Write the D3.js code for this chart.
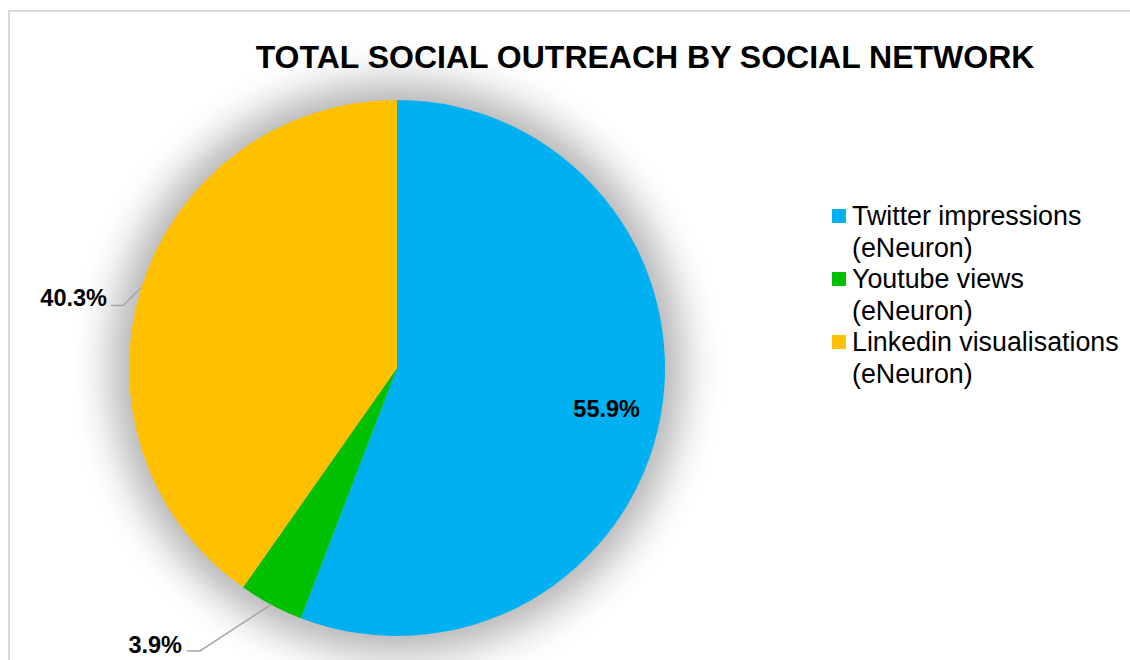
<!DOCTYPE html>
<html><head><meta charset="utf-8">
<script src="https://cdn.jsdelivr.net/npm/d3@7"></script>
<style>body{margin:0;background:#fff;font-family:"Liberation Sans",Arial,sans-serif}</style>
</head><body>
<svg id="c" width="1130" height="660"></svg>
<script>
const categories = ["Twitter impressions (eNeuron)", "Youtube views (eNeuron)", "Linkedin visualisations (eNeuron)"];
const legendLines = [["Twitter impressions", "(eNeuron)"], ["Youtube views", "(eNeuron)"], ["Linkedin visualisations", "(eNeuron)"]];
const values = [55.9, 3.9, 40.3];
const labels = ["55.9%", "3.9%", "40.3%"];
const colors = ["#00B0F0", "#00C000", "#FFC000"];

const svg = d3.select("#c");
svg.append("rect").attr("x",9).attr("y",11).attr("width",1140).attr("height",680)
  .attr("fill","#fff").attr("stroke","#d9d9d9").attr("stroke-width",2);

svg.append("text").attr("x",645).attr("y",68).attr("text-anchor","middle")
  .attr("font-size",32).attr("font-weight","bold").attr("fill","#000")
  .text("TOTAL SOCIAL OUTREACH BY SOCIAL NETWORK");

const cx = 397, cy = 368, r = 268;
const defs = svg.append("defs");
const f = defs.append("filter").attr("id","sh").attr("x","-30%").attr("y","-30%").attr("width","160%").attr("height","160%");
f.append("feGaussianBlur").attr("stdDeviation",20);

const g = svg.append("g").attr("transform",`translate(${cx},${cy})`);
g.append("circle").attr("r",r+18).attr("fill","#000").attr("opacity",0.3).attr("filter","url(#sh)");

const pie = d3.pie().sort(null).value(d=>d);
const arcs = pie(values);
const arc = d3.arc().innerRadius(0).outerRadius(r);
g.selectAll("path.s").data(arcs).join("path").attr("class","s")
  .attr("d",arc).attr("fill",(d,i)=>colors[i]);

// inside label for first slice
g.append("text").attr("x",243).attr("y",49).attr("text-anchor","end")
  .attr("font-size",23.5).attr("font-weight","bold").text(labels[0]);

// outside labels with leader lines
const outside = [
  {i:2, elbow:[-274,-62.5], end:[-286,-62.5], tx:-290, ty:-62},
  {i:1, elbow:[-197,283], end:[-210,283], tx:-215, ty:285}
];
outside.forEach(o=>{
  const a = arcs[o.i];
  const mid = (a.startAngle + a.endAngle)/2;
  const p = [r*Math.sin(mid), -r*Math.cos(mid)];
  g.append("polyline").attr("points",[p,o.elbow,o.end].map(q=>q.join(",")).join(" "))
    .attr("fill","none").attr("stroke","#a6a6a6").attr("stroke-width",1.5);
  g.append("text").attr("x",o.tx).attr("y",o.ty).attr("text-anchor","end")
    .attr("font-size",23.5).attr("font-weight","bold").text(labels[o.i]);
});

// legend
const lg = svg.append("g").attr("transform","translate(832,0)");
const rowY = [225, 288, 351];
legendLines.forEach((ls,i)=>{
  lg.append("rect").attr("x",0).attr("y",rowY[i]-16).attr("width",14).attr("height",14).attr("fill",colors[i]);
  ls.forEach((t,j)=>{
    lg.append("text").attr("x",20).attr("y",rowY[i]+j*31.5).attr("font-size",26.8).attr("fill","#000").text(t);
  });
});
</script>
</body></html>
